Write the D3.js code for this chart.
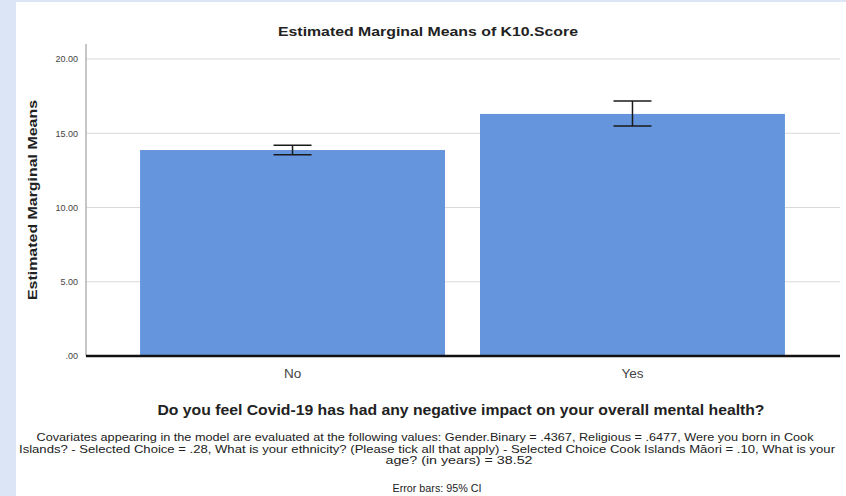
<!DOCTYPE html>
<meta charset="utf-8">
<style>
body { margin: 0; background: #dce5f5; }
svg { display: block; font-family: "Liberation Sans", Arial, sans-serif; }
.tick text { fill: #444; }
</style>
<body>
<script src="https://d3js.org/d3.v7.min.js"></script>
<script>
// data
var categories = ["No", "Yes"];
var means = [13.87, 16.30];
var ciLow = [13.55, 15.49];
var ciHigh = [14.20, 17.17];
var yTicks = [0, 5, 10, 15, 20];
var notes = [
  "Covariates appearing in the model are evaluated at the following values: Gender.Binary = .4367, Religious = .6477, Were you born in Cook",
  "Islands? - Selected Choice = .28, What is your ethnicity? (Please tick all that apply) - Selected Choice Cook Islands Māori = .10, What is your",
  "age? (in years) = 38.52"
];

var W = 846, H = 496;
var svg = d3.select("body").append("svg")
    .attr("width", W)
    .attr("height", H);

// white panel
svg.append("rect")
    .attr("x", 16).attr("y", 2)
    .attr("width", W - 16).attr("height", H - 2)
    .attr("fill", "#fff");

var x = d3.scaleBand()
    .domain(categories)
    .range([86, 839])
    .paddingInner(0.103)
    .paddingOuter(0.159);
var y = d3.scaleLinear()
    .domain([0, 20])
    .range([356, 59]);

// gridlines
svg.append("g")
    .selectAll("line")
    .data(yTicks.slice(1))
    .enter().append("line")
    .attr("x1", 86).attr("x2", 840)
    .attr("y1", function(d) { return y(d); })
    .attr("y2", function(d) { return y(d); })
    .attr("stroke", "#d9d9d9")
    .attr("stroke-width", 1.2);

// y axis
var yAxis = svg.append("g")
    .attr("transform", "translate(86,0)")
    .call(d3.axisLeft(y).tickValues(yTicks).tickSize(0).tickPadding(8)
      .tickFormat(function(d) { return d === 0 ? ".00" : d.toFixed(2); }));
yAxis.select(".domain").remove();
yAxis.selectAll("text").style("font-size", "9px").attr("font-family", "Liberation Sans");
svg.append("line")
    .attr("x1", 86).attr("x2", 86)
    .attr("y1", 44).attr("y2", 356)
    .attr("stroke", "#b3b3b3").attr("stroke-width", 1.5);

// bars
svg.selectAll(".bar")
    .data(categories)
    .enter().append("rect")
    .attr("class", "bar")
    .attr("x", function(d) { return x(d); })
    .attr("width", x.bandwidth())
    .attr("y", function(d, i) { return y(means[i]); })
    .attr("height", function(d, i) { return y(0) - y(means[i]); })
    .attr("fill", "#6495dd");

// error bars
var eb = svg.selectAll(".err")
    .data(categories)
    .enter().append("g")
    .attr("class", "err")
    .attr("stroke", "#1a1a1a")
    .attr("stroke-width", 1.5);
eb.append("line")
    .attr("x1", function(d) { return x(d) + x.bandwidth() / 2; })
    .attr("x2", function(d) { return x(d) + x.bandwidth() / 2; })
    .attr("y1", function(d, i) { return y(ciLow[i]); })
    .attr("y2", function(d, i) { return y(ciHigh[i]); });
[ciLow, ciHigh].forEach(function(arr) {
  eb.append("line")
    .attr("x1", function(d) { return x(d) + x.bandwidth() / 2 - 19; })
    .attr("x2", function(d) { return x(d) + x.bandwidth() / 2 + 19; })
    .attr("y1", function(d, i) { return y(arr[i]); })
    .attr("y2", function(d, i) { return y(arr[i]); });
});

// x axis
var xAxis = svg.append("g")
    .attr("transform", "translate(0,356)")
    .call(d3.axisBottom(x).tickSize(0).tickPadding(12));
xAxis.select(".domain").remove();
xAxis.selectAll("text").style("font-size", "13.5px").attr("font-family", "Liberation Sans");
svg.append("line")
    .attr("x1", 86).attr("x2", 840)
    .attr("y1", 356).attr("y2", 356)
    .attr("stroke", "#111").attr("stroke-width", 2.5);

// titles
function label(t, cx, cy, size, weight, len) {
  var el = svg.append("text")
    .attr("x", cx).attr("y", cy)
    .attr("text-anchor", "middle")
    .attr("fill", "#222")
    .style("font-size", size + "px")
    .style("font-weight", weight)
    .text(t);
  if (len) el.attr("textLength", len).attr("lengthAdjust", "spacingAndGlyphs");
  return el;
}
label("Estimated Marginal Means of K10.Score", 428, 36, 13, "bold", 300);
label("Do you feel Covid-19 has had any negative impact on your overall mental health?", 461, 415, 14, "bold", 607);
svg.append("text")
    .attr("transform", "translate(37,200) rotate(-90)")
    .attr("text-anchor", "middle")
    .attr("fill", "#222")
    .style("font-size", "13px")
    .style("font-weight", "bold")
    .attr("textLength", 200).attr("lengthAdjust", "spacingAndGlyphs")
    .text("Estimated Marginal Means");

var noteX = [425, 427, 459], noteLen = [777, 816, 147];
notes.forEach(function(t, i) {
  label(t, noteX[i], 441 + i * 11.5, 11.5, "normal", noteLen[i]);
});
label("Error bars: 95% CI", 437, 492, 11.5, "normal", 89);
</script>
</body>
